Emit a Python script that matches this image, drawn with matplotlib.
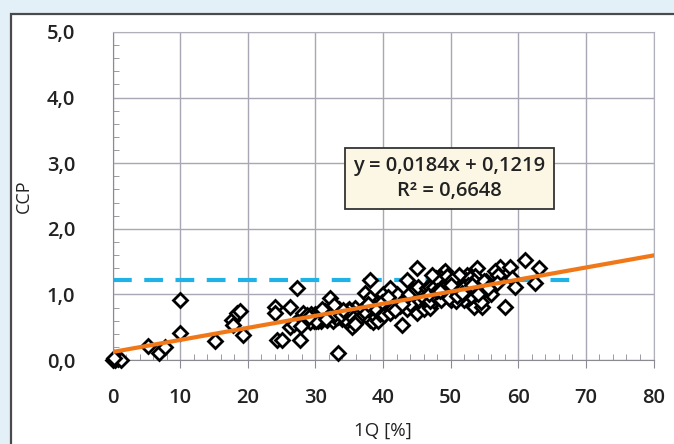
import matplotlib.pyplot as plt
from matplotlib.patches import Rectangle
from matplotlib.ticker import MultipleLocator, FuncFormatter

# scatter points (1Q %, CCP), split by region
sparse_x = [0, 0.4, 0.8, 1.2, 0.2, 5.2, 6.8, 7.7, 10, 10,
            15.2, 17.6, 18.4, 18.8, 17.8, 19.3, 24, 24.3, 24, 25,
            26.3, 27.2, 27.7, 26.2, 32.2, 33.4, 35.4, 38.1, 37.3, 42.8,
            43.5, 45, 45, 42, 48.9, 61, 63, 62.5, 57.3, 58.8,
            58, 53.4, 54.6, 53.9, 49.2, 52.4]
sparse_y = [0, 0, 0.02, 0, 0.03, 0.22, 0.11, 0.2, 0.91, 0.41,
            0.29, 0.61, 0.71, 0.74, 0.53, 0.38, 0.81, 0.30, 0.71, 0.30,
            0.81, 1.09, 0.30, 0.51, 0.94, 0.10, 0.51, 1.22, 1.02, 0.53,
            1.22, 1.40, 0.71, 0.94, 1.32, 1.52, 1.40, 1.17, 1.42, 1.42,
            0.81, 0.81, 0.81, 1.40, 1.35, 1.30]

band_x = [27.5, 28, 28.5, 29, 29.4, 29.8, 30.2, 30.5, 30.8, 31.1,
          31.4, 31.7, 32, 32.4, 32.8, 33.1, 33.5, 33.9, 34.3, 34.7,
          35.1, 35.5, 35.9, 36.3, 36.7, 28.2, 29.2, 30, 30.6, 31.2,
          31.8, 32.6, 33.3, 34, 34.6, 35.3, 36, 29.6, 30.4, 31,
          31.6, 32.2, 33, 33.7, 34.4, 35, 35.7, 28.8, 30.9, 32.9,
          34.9, 26.8, 27.9, 30.1, 31.5, 32.7, 33.8, 29.1, 34.1, 35.6]
band_y = [0.62, 0.58, 0.66, 0.62, 0.70, 0.60, 0.64, 0.72, 0.60, 0.66,
          0.74, 0.61, 0.68, 0.76, 0.63, 0.70, 0.78, 0.62, 0.66, 0.74,
          0.64, 0.71, 0.80, 0.66, 0.74, 0.72, 0.58, 0.70, 0.62, 0.70,
          0.65, 0.60, 0.66, 0.72, 0.60, 0.68, 0.62, 0.66, 0.60, 0.68,
          0.64, 0.74, 0.64, 0.72, 0.62, 0.78, 0.70, 0.68, 0.78, 0.70,
          0.76, 0.55, 0.52, 0.60, 0.62, 0.84, 0.68, 0.66, 0.76, 0.64]

mid_x = [36.5, 37, 37.5, 38, 38.5, 39, 39.2, 39.5, 40, 40.2,
         40.5, 41, 41, 41.5, 42, 42.5, 43, 43.5, 44, 44,
         44.5, 45.5, 46, 46.5, 47, 47.5, 38, 39, 40, 41,
         36, 35.8, 38.8, 39.8, 40.8, 41.8, 42.8, 43.8, 44.8, 37.8,
         45.2, 46.2]
mid_y = [0.62, 0.78, 0.72, 0.61, 0.58, 0.65, 0.60, 0.70, 0.75, 0.68,
         0.85, 0.90, 0.72, 0.80, 1.00, 0.82, 0.90, 0.78, 0.95, 0.85,
         1.05, 0.90, 0.78, 0.85, 0.80, 0.90, 0.95, 0.85, 1.00, 1.10,
         0.60, 0.55, 0.80, 0.88, 0.96, 0.76, 0.86, 1.00, 1.08, 0.86,
         1.12, 1.02]

cluster_x = [46, 46.5, 47, 47.3, 47.6, 48, 48.3, 48.6, 49, 49.3,
             49.6, 50, 50.3, 50.6, 51, 51.3, 51.6, 52, 52.3, 52.6,
             53, 53.3, 53.6, 54, 54.4, 54.8, 55.2, 55.6, 56, 47,
             47.8, 48.5, 49.2, 50, 50.8, 51.5, 52.2, 53, 53.8, 54.5,
             46.8, 47.5, 48.2, 49, 49.8, 50.5, 51.2, 52, 52.8, 53.5,
             48, 49.5, 51, 52.5, 54, 47.2, 48.8, 50.2, 51.8, 53.2,
             55, 56.5, 57, 59, 59.5, 56.8, 55.5, 48.4, 50.1, 51.7]
cluster_y = [0.95, 1.10, 0.90, 1.05, 1.20, 0.95, 1.15, 1.25, 1.00, 1.10,
             1.20, 0.92, 1.05, 1.18, 0.95, 1.10, 1.25, 0.92, 1.05, 1.18,
             0.98, 1.12, 1.28, 1.00, 1.15, 1.05, 1.20, 1.10, 1.00, 1.12,
             1.25, 0.92, 1.02, 1.18, 0.90, 1.08, 1.22, 0.98, 1.08, 0.88,
             1.00, 1.12, 1.22, 1.15, 0.95, 1.08, 1.30, 1.02, 1.25, 1.20,
             1.05, 1.28, 0.98, 1.15, 1.00, 1.30, 1.08, 1.22, 1.10, 1.15,
             1.20, 1.35, 1.30, 1.25, 1.12, 1.18, 1.10, 1.05, 1.14, 1.02]

q_pct = sparse_x + band_x + mid_x + cluster_x
ccp = sparse_y + band_y + mid_y + cluster_y

slope = 0.0184
intercept = 0.1219
r2 = 0.6648
ref_level = 1.22
ref_xmax = 68.5

plt.rcParams['font.family'] = ['Open Sans', 'DejaVu Sans']
plt.rcParams['font.weight'] = 'semibold'

fig = plt.figure(figsize=(6.74, 4.44), dpi=100)
fig.patch.set_facecolor('#e4f0f7')
panel = Rectangle((11 / 674, -0.2), 1.2, 1.2 - 14 / 444, transform=fig.transFigure,
                  facecolor='white', edgecolor='#4a4a4a', lw=1.6, zorder=-5)
fig.patches.append(panel)

ax = fig.add_axes([112.6 / 674, 1 - 360 / 444, (653.5 - 112.6) / 674, (360 - 32) / 444])
ax.set_zorder(2)
ax.set_facecolor('white')

ax.plot([0, ref_xmax], [ref_level, ref_level], color='#1eb2e6', lw=3.0,
        dashes=(4.5, 3.0), zorder=2)
ax.plot(q_pct, ccp, linestyle='none', marker='D', markersize=7.2,
        markerfacecolor='white', markeredgecolor='black', markeredgewidth=2.0,
        zorder=3, clip_on=False)
ax.plot([0, 80], [intercept, intercept + slope * 80], color='#f07818', lw=3.0, zorder=4)

ax.set_xlim(0, 80)
ax.set_ylim(0, 5)
ax.xaxis.set_major_locator(MultipleLocator(10))
ax.xaxis.set_minor_locator(MultipleLocator(2))
ax.yaxis.set_major_locator(MultipleLocator(1))
ax.yaxis.set_minor_locator(MultipleLocator(0.2))
ax.yaxis.set_major_formatter(FuncFormatter(lambda v, p: f'{v:.1f}'.replace('.', ',')))
ax.grid(True, which='major', color='#a8a8b4', lw=1.0)
ax.set_axisbelow(True)

for side in ['top', 'right']:
    ax.spines[side].set_color('#b0b0b8')
for side in ['left', 'bottom']:
    ax.spines[side].set_color('#8a8a92')
ax.tick_params(axis='x', which='major', direction='out', length=6, color='#8a8a92',
               labelsize=14.5, labelcolor='#222222', pad=14)
ax.tick_params(axis='x', which='minor', direction='in', length=4, color='#8a8a92')
ax.tick_params(axis='y', which='major', direction='out', length=0, labelsize=14.5,
               labelcolor='#222222', pad=27)
ax.tick_params(axis='y', which='minor', direction='in', length=4, color='#8a8a92')

ax.set_xlabel('1Q [%]', fontsize=13.5, fontweight='medium', color='#222222', labelpad=10)
ax.set_ylabel('CCP', fontsize=13, fontweight='medium', color='#222222', labelpad=10)

ax.text(49.8, 2.77, f'y = {slope:.4f}x + {intercept:.4f}\nR² = {r2:.4f}'.replace('.', ','),
        ha='center', va='center', fontsize=14.5, color='#222222', linespacing=1.3,
        bbox=dict(boxstyle='square,pad=0.42', facecolor='#fbf7e4', edgecolor='#333333', lw=1.3),
        zorder=5)

fig.savefig('out.png', dpi=100, facecolor=fig.get_facecolor())
